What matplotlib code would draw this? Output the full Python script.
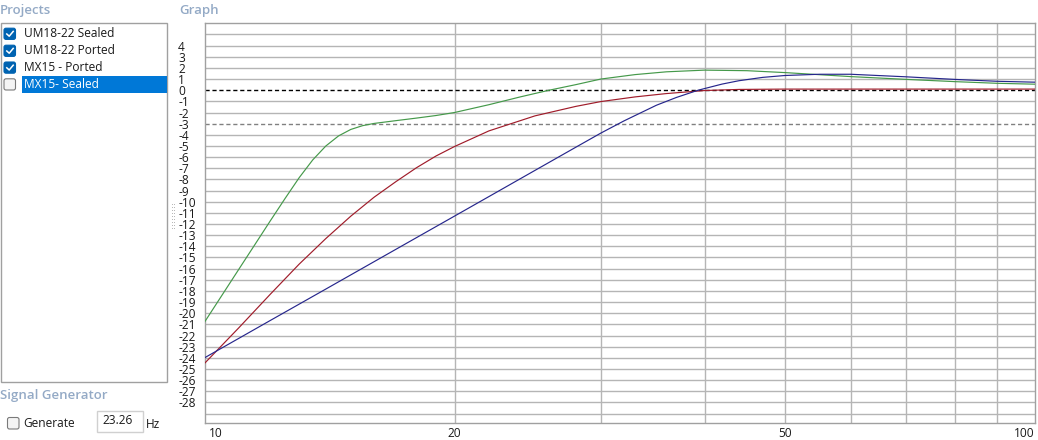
import matplotlib
matplotlib.use("Agg")
import matplotlib.pyplot as plt
import matplotlib.transforms as mtrans
from matplotlib.patches import Rectangle, FancyBboxPatch
from matplotlib.ticker import NullLocator
from matplotlib.lines import Line2D

plt.rcParams['font.family'] = ['Open Sans', 'DejaVu Sans']

# ---------------- data ----------------
projects = ["UM18-22 Sealed", "UM18-22 Ported", "MX15 - Ported", "MX15- Sealed"]
project_checked = [True, True, True, False]

# green curve (Hz, dB)
freq_green = [10, 10.5, 11, 11.5, 12, 12.5, 13, 13.5, 14, 14.5, 15, 15.5, 16, 17, 18,
              19, 20, 22, 24, 26, 28, 30, 33, 36, 40, 45, 50, 60, 70, 80, 90, 100]
db_green = [-20.8, -18.37, -16.05, -13.84, -11.72, -9.72, -7.85, -6.25, -5.0, -4.1,
            -3.52, -3.18, -2.98, -2.73, -2.5, -2.27, -2.0, -1.3, -0.6, 0.0, 0.5, 1.0,
            1.4, 1.65, 1.8, 1.75, 1.58, 1.22, 0.97, 0.77, 0.62, 0.54]

# red curve (Hz, dB)
freq_red = [10, 11, 12, 13, 14, 15, 16, 17, 18, 19, 20, 22, 25, 28, 30, 33, 36, 40,
            44, 50, 70, 100]
db_red = [-24.5, -21.3, -18.3, -15.6, -13.3, -11.3, -9.6, -8.2, -6.95, -5.9, -5.05,
          -3.65, -2.3, -1.45, -1.02, -0.6, -0.3, -0.03, 0.07, 0.1, 0.1, 0.1]

# blue curve (Hz, dB)
freq_blue = [10, 12, 14, 16, 18, 20, 22, 25, 28, 30, 32, 35, 37, 39.3, 42, 44, 47,
             50, 55, 60, 70, 80, 90, 100]
db_blue = [-24.0, -20.65, -17.83, -15.38, -13.22, -11.29, -9.54, -7.19, -5.11, -3.85,
           -2.75, -1.35, -0.65, 0.0, 0.55, 0.85, 1.15, 1.32, 1.43, 1.43, 1.2, 0.97,
           0.8, 0.72]

y_ticks = list(range(4, -29, -1))
y_tick_labels = [str(v) for v in y_ticks]
x_ticks = [10, 20, 50, 100]
x_tick_labels = ["10", "20", "50", "100"]
x_grid = [20, 30, 40, 50, 60, 70, 80, 90]
y_grid = [v for v in range(5, -30, -1) if v not in (0, -3)]

signal_freq = "23.26"

# ---------------- figure ----------------
W, H = 1038, 440
fig = plt.figure(figsize=(W / 100, H / 100), dpi=100)
fig.patch.set_facecolor("white")

# overlay in pixel coordinates for the UI parts
ui = fig.add_axes([0, 0, 1, 1], zorder=0)
ui.set_xlim(0, W)
ui.set_ylim(H, 0)
ui.axis("off")

head_col = "#94aac6"
ui.text(0, 10.5, "Projects", color=head_col, fontsize=9.5, fontweight="semibold",
        ha="left", va="center")
ui.text(179, 10.5, "Graph", color=head_col, fontsize=9.5, fontweight="semibold",
        ha="left", va="center")
ui.text(0, 395.5, "Signal Generator", color=head_col, fontsize=9.5, fontweight="semibold",
        ha="left", va="center")

# list box
ui.add_patch(Rectangle((0.5, 23.3), 166.2, 358.4, fill=False, edgecolor="#a0a0a0", lw=1))
item_y = [33.8, 50.8, 67.6, 84.4]
ui.add_patch(Rectangle((22, 76), 144.5, 17, facecolor="#0078d7", edgecolor="none"))
for name, chk, yy in zip(projects, project_checked, item_y):
    if chk:
        ui.add_patch(FancyBboxPatch((4, yy - 5.6), 11.5, 11.2,
                                    boxstyle="round,pad=0,rounding_size=2",
                                    facecolor="#0063b1", edgecolor="#0063b1", lw=0.8))
        ui.add_line(Line2D([6.8, 9.2, 13.2], [yy + 0.2, yy + 2.4, yy - 2.4],
                           color="white", lw=1.1))
        tc = "#1a1a1a"
    else:
        ui.add_patch(FancyBboxPatch((4, yy - 5.6), 11.5, 11.2,
                                    boxstyle="round,pad=0,rounding_size=2",
                                    facecolor="#f4f4f4", edgecolor="#7a7a7a", lw=0.8))
        tc = "white"
    ui.text(24, yy, name, color=tc, fontsize=8.6, ha="left", va="center")

# splitter grip
for gx in (171.5, 174.0):
    for gy in range(204, 230, 3):
        ui.add_patch(Rectangle((gx, gy), 1, 1, facecolor="#b8b8b8", edgecolor="none"))

# signal generator controls
ui.add_patch(FancyBboxPatch((7.5, 417.5), 11.5, 11.5,
                            boxstyle="round,pad=0,rounding_size=2",
                            facecolor="#f4f4f4", edgecolor="#7a7a7a", lw=0.8))
ui.text(23, 423.5, "Generate", color="#1a1a1a", fontsize=8.6, ha="left", va="center")
ui.add_patch(Rectangle((97, 411), 46, 21.5, facecolor="white", edgecolor="#d0d0d0", lw=1))
ui.text(102, 421, signal_freq, color="#1a1a1a", fontsize=8.6, ha="left", va="center")
ui.text(146, 424, "Hz", color="#1a1a1a", fontsize=8.6, ha="left", va="center")

# ---------------- chart ----------------
left, right, top, bottom = 204.5, 1035.0, 23.3, 423.3
ax = fig.add_axes([left / W, (H - bottom) / H, (right - left) / W, (bottom - top) / H],
                  zorder=1)
ax.set_facecolor("white")
ax.set_xscale("log")
ax.set_xlim(10, 100)
ax.set_ylim(-29.87, 6.0)

grid_col = "#b5b5b5"
for v in y_grid:
    ax.axhline(v, color=grid_col, lw=1.0, zorder=1)
for f in x_grid:
    ax.axvline(f, color=grid_col, lw=1.0, zorder=1)
ax.axhline(0, color="black", lw=1.0, ls=(0, (3, 2)), zorder=2)
ax.axhline(-3, color="#808080", lw=1.0, ls=(0, (3, 2)), zorder=2)

ax.plot(freq_green, db_green, color="#45994a", lw=0.85, zorder=3)
ax.plot(freq_red, db_red, color="#a01c2a", lw=0.85, zorder=4)
ax.plot(freq_blue, db_blue, color="#26268c", lw=0.85, zorder=5)

for s in ax.spines.values():
    s.set_color("#a0a0a0")
    s.set_linewidth(1.0)

ax.set_yticks(y_ticks, y_tick_labels)
ax.tick_params(axis="y", length=0, pad=19, labelsize=8.6, labelcolor="#1a1a1a")
for lbl in ax.get_yticklabels():
    lbl.set_ha("left")

ax.xaxis.set_minor_locator(NullLocator())
ax.set_xticks(x_ticks, x_tick_labels)
ax.tick_params(axis="x", length=0, pad=2.5, labelsize=8.6, labelcolor="#1a1a1a")
xl = ax.get_xticklabels()
xl[0].set_ha("left")
xl[-1].set_ha("right")
xl[0].set_transform(xl[0].get_transform() + mtrans.ScaledTranslation(4 / 100, 0, fig.dpi_scale_trans))

fig.savefig("out.png", dpi=100, facecolor="white")
